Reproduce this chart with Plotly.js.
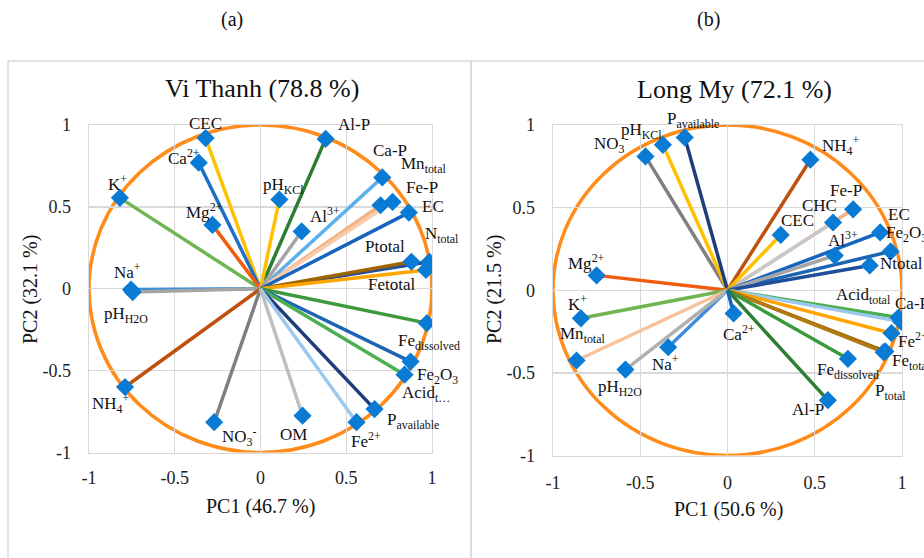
<!DOCTYPE html>
<html><head><meta charset="utf-8">
<script src="https://cdn.plot.ly/plotly-3.0.1.min.js"></script>
<style>html,body{margin:0;padding:0;background:#fff}</style>
</head><body><div id="chart" style="width:924px;height:558px"></div>
<script>
// ---------- DATA: (a) Vi Thanh ----------
const vtNames = ['CEC','Ca<sup>2+</sup>','K<sup>+</sup>','Mg<sup>2+</sup>','Na<sup>+</sup>','pH<sub>H2O</sub>','NH<sub>4</sub><sup>+</sup>','NO<sub>3</sub><sup>-</sup>','Al-P','pH<sub>KCl</sub>','Ca-P','Mn<sub>total</sub>','Fe-P','Al<sup>3+</sup>','EC','N<sub>total</sub>','Ptotal','Fetotal','Fe<sub>dissolved</sub>','Fe<sub>2</sub>O<sub>3</sub>','Acid<sub>t…</sub>','P<sub>available</sub>','Fe<sup>2+</sup>','OM'];
const vtPC1 = [-0.32,-0.36,-0.82,-0.28,-0.755,-0.745,-0.79,-0.27,0.38,0.11,0.71,0.70,0.77,0.24,0.865,0.985,0.88,0.965,0.97,0.875,0.84,0.665,0.56,0.245];
const vtPC2 = [0.92,0.77,0.555,0.39,-0.005,-0.02,-0.60,-0.815,0.915,0.545,0.68,0.51,0.53,0.35,0.465,0.165,0.165,0.115,-0.21,-0.445,-0.525,-0.735,-0.815,-0.775];

// ---------- DATA: (b) Long My ----------
const lmNames = ['NO<sub>3</sub><sup>-</sup>','pH<sub>KCl</sub>','P<sub>available</sub>','Mg<sup>2+</sup>','K<sup>+</sup>','Mn<sub>total</sub>','Na<sup>+</sup>','pH<sub>H2O</sub>','NH<sub>4</sub><sup>+</sup>','Fe-P','CHC','CEC','EC','Fe<sub>2</sub>O<sub>3</sub>','Al<sup>3+</sup>','Ntotal','Acid<sub>total</sub>','Ca-P','Fe<sup>2+</sup>','Fe<sub>total</sub>','P<sub>total</sub>','Fe<sub>dissolved</sub>','Al-P','Ca<sup>2+</sup>'];
const lmPC1 = [-0.47,-0.37,-0.245,-0.75,-0.84,-0.865,-0.34,-0.585,0.475,0.72,0.605,0.305,0.875,0.935,0.615,0.815,0.98,0.995,0.94,0.905,0.895,0.69,0.575,0.035];
const lmPC2 = [0.81,0.88,0.925,0.09,-0.17,-0.425,-0.345,-0.48,0.79,0.49,0.41,0.335,0.35,0.235,0.21,0.15,-0.165,-0.19,-0.26,-0.37,-0.375,-0.415,-0.665,-0.14];

// ---------- TICKS ----------
const tickVals = [-1,-0.5,0,0.5,1];
const tickText = ['-1','-0.5','0','0.5','1'];

// ---------- STYLES ----------
const vtColors = ['#FFC000','#1F6FC5','#70B552','#F25B0E','#3E8EDC','#A5A5A5','#C0500F','#7F7F7F','#2E7D32','#FFC000','#5BB0EA','#F4B183','#F8CBAD','#A5A5A5','#1565C0','#1F4E9A','#9C6500','#FFA500','#3C9A3C','#1E64B4','#4CAF50','#1F3D7A','#9DC8EE','#BFBFBF'];
const vtShift = [[0,-15],[-15,-6],[-2,-15],[-8,-14],[-4,-19],[-7,23],[-14,16],[25,14],[28,-14],[4,-14],[8,-27],[43,-40],[29,-14],[23,-16],[24,-6],[13,-27],[-26,-15],[-35,15],[2,19],[27,14],[21,19],[38,12],[9,18],[-9,19]];
const lmColors = ['#7F7F7F','#FFC000','#1F3D7A','#F25B0E','#70B552','#F8C29B','#3E8EDC','#B0B0B0','#C0500F','#F4B183','#C8C8C8','#FFC000','#1565C0','#1E64B4','#A5A5A5','#1F4E9A','#4CAF50','#9DC8EE','#FFA500','#9C6500','#B07A10','#3C9A3C','#2E7D32','#1565C0'];
const lmShift = [[-34,-13],[-21,-14],[8,-17],[-10,-13],[-3,-15],[6,-25],[-3,16],[-5,18],[31,-14],[-7,-19],[-14,-17],[17,-14],[19,-18],[16,-17],[8,-17],[32,-2],[-35,-22],[11,-18],[21,7],[26,11],[7,40],[0,12],[-20,9],[5,20]];

const FONT = 'Liberation Serif, Times New Roman, serif';
const W = 924, H = 558;
const px = v => v / W, py = v => (H - v) / H;

const traces = [];
const annotations = [];
function addPanel(names, pc1, pc2, colors, shifts, xa, ya) {
  names.forEach((n, i) => {
    traces.push({type:'scatter', mode:'lines', x:[0, pc1[i]], y:[0, pc2[i]], xaxis:xa, yaxis:ya,
      line:{color:colors[i], width:3.5}, hoverinfo:'skip', showlegend:false});
  });
  traces.push({type:'scatter', mode:'markers', x:pc1, y:pc2, xaxis:xa, yaxis:ya, text:names,
    marker:{symbol:'diamond', size:14, color:'#0A7BD5'}, showlegend:false, hoverinfo:'text'});
  names.forEach((n, i) => {
    annotations.push({xref:xa, yref:ya, x:pc1[i], y:pc2[i], text:n, showarrow:false,
      xshift:shifts[i][0], yshift:-shifts[i][1], font:{family:FONT, size:17, color:'#111'}});
  });
}
addPanel(vtNames, vtPC1, vtPC2, vtColors, vtShift, 'x', 'y');
addPanel(lmNames, lmPC1, lmPC2, lmColors, lmShift, 'x2', 'y2');

function txt(x, y, t, size, angle) {
  annotations.push({xref:'paper', yref:'paper', x:px(x), y:py(y), text:t, showarrow:false,
    xanchor:'center', yanchor:'middle', textangle:angle||0, font:{family:FONT, size:size, color:'#111'}});
}
txt(232, 19, '(a)', 20);
txt(708, 19, '(b)', 20);
txt(262, 88, 'Vi Thanh (78.8 %)', 26);
txt(734, 90, 'Long My (72.1 %)', 26);
txt(260, 506, 'PC1 (46.7 %)', 20);
txt(728, 509, 'PC1 (50.6 %)', 20);
txt(30, 289, 'PC2 (32.1 %)', 20, -90);
txt(494, 290, 'PC2 (21.5 %)', 20, -90);

function axis(domain, standoff) {
  return {domain:domain, range:[-1,1], tickmode:'array', tickvals:tickVals, ticktext:tickText,
    showgrid:true, gridcolor:'#D9D9D9', gridwidth:1.3,
    zeroline:true, zerolinecolor:'#D9D9D9', zerolinewidth:1.3, showline:true, mirror:true, linecolor:'#D9D9D9', linewidth:1.3,
    ticks:'', ticklabelstandoff:standoff, fixedrange:true,
    tickfont:{family:FONT, size:18, color:'#222'}};
}
const shapes = [
  {type:'circle', xref:'x', yref:'y', x0:-1, x1:1, y0:-1, y1:1, line:{color:'#FF8C1A', width:3.5}, layer:'below'},
  {type:'circle', xref:'x2', yref:'y2', x0:-1, x1:1, y0:-1, y1:1, line:{color:'#FF8C1A', width:3.5}, layer:'below'},
  {type:'rect', xref:'paper', yref:'paper', x0:px(8), x1:px(471), y0:-0.05, y1:py(61), line:{color:'#D9D9D9', width:1.5}},
  {type:'rect', xref:'paper', yref:'paper', x0:px(471), x1:1.05, y0:-0.05, y1:py(61), line:{color:'#D9D9D9', width:1.5}}
];
const layout = {
  width:W, height:H, margin:{l:0,r:0,t:0,b:0}, paper_bgcolor:'#fff', plot_bgcolor:'#fff', showlegend:false,
  xaxis: Object.assign(axis([px(89), px(432)], 9), {anchor:'y'}),
  yaxis: Object.assign(axis([py(452.5), py(125)], 13), {anchor:'x'}),
  xaxis2: Object.assign(axis([px(553), px(902)], 11), {anchor:'y2'}),
  yaxis2: Object.assign(axis([py(455.5), py(125)], 13), {anchor:'x2'}),
  shapes: shapes, annotations: annotations
};
Plotly.newPlot('chart', traces, layout, {displayModeBar:false, staticPlot:true});
</script></body></html>
